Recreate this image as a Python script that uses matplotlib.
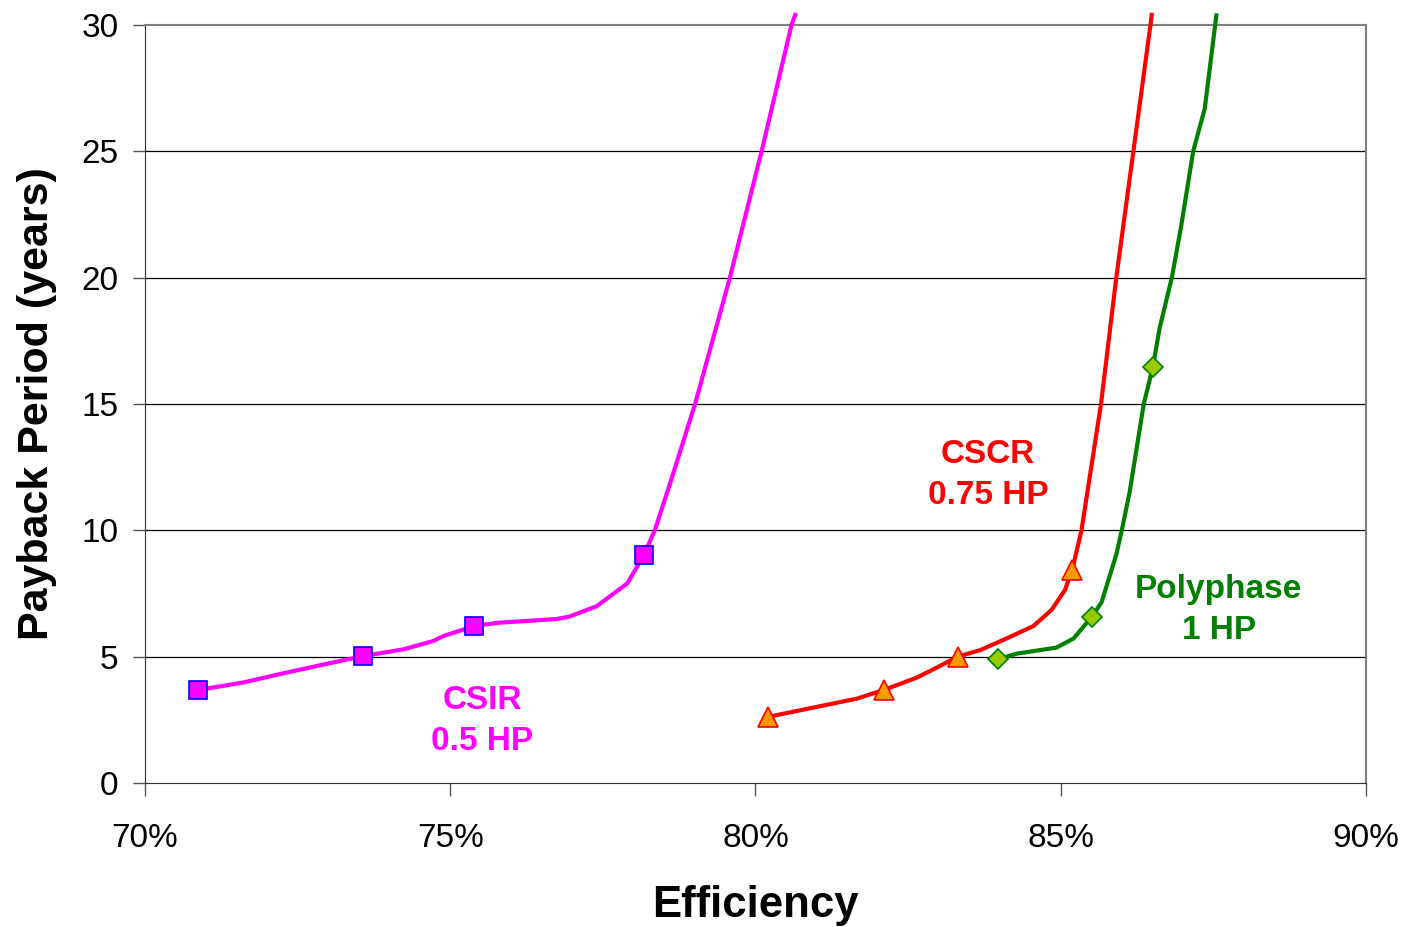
import matplotlib
matplotlib.use('Agg')
import matplotlib.pyplot as plt
from matplotlib.ticker import PercentFormatter

plt.rcParams['font.family'] = ['Liberation Sans', 'DejaVu Sans']

# efficiency (%) vs payback period (years)
csir_x = [70.87, 71.61, 72.26, 72.96, 73.57, 74.25, 74.72, 74.89, 75.39, 75.77, 76.73,
          76.94, 77.40, 77.90, 78.17, 78.35, 78.62, 79.01, 79.58, 80.10, 80.59, 80.65]
csir_y = [3.68, 3.98, 4.34, 4.71, 5.02, 5.30, 5.62, 5.82, 6.21, 6.34, 6.49,
          6.58, 7.00, 7.90, 9.02, 10.0, 12.0, 15.0, 20.0, 25.0, 30.0, 30.4]
csir_mx = [70.87, 73.57, 75.39, 78.17]
csir_my = [3.68, 5.02, 6.21, 9.02]

cscr_x = [80.21, 81.66, 82.10, 82.64, 83.02, 83.31, 83.68, 84.11, 84.55, 84.85, 85.07,
          85.19, 85.34, 85.50, 85.66, 85.91, 86.19, 86.47, 86.49]
cscr_y = [2.62, 3.34, 3.68, 4.17, 4.63, 5.00, 5.26, 5.72, 6.21, 6.85, 7.64,
          8.45, 10.0, 12.5, 15.0, 20.0, 25.0, 30.0, 30.4]
cscr_mx = [80.21, 82.10, 83.31, 85.19]
cscr_my = [2.62, 3.68, 5.00, 8.45]

poly_x = [83.98, 84.28, 84.93, 85.21, 85.51, 85.67, 85.91, 86.00, 86.13, 86.36,
          86.51, 86.62, 86.82, 86.97, 87.17, 87.36, 87.53, 87.55]
poly_y = [4.91, 5.12, 5.36, 5.72, 6.58, 7.16, 9.04, 10.0, 11.53, 15.0,
          16.48, 18.0, 20.0, 22.0, 25.0, 26.7, 30.0, 30.38]
poly_mx = [83.98, 85.51, 86.51]
poly_my = [4.91, 6.58, 16.48]

fig = plt.figure(figsize=(14.04, 9.27), dpi=100)
ax = fig.add_axes([0.1033, 0.1553, 0.8696, 0.8177])

# grid lines
for yv in [5, 10, 15, 20, 25]:
    ax.axhline(yv, color='black', lw=0.9, zorder=1)

ax.plot(csir_x, csir_y, color='#FF00FF', lw=3, zorder=3, clip_on=False)
ax.plot(csir_mx, csir_my, ls='none', marker='s', ms=12.5, mfc='#FF00FF', mec='#0000FF',
        mew=1.2, zorder=4)

ax.plot(cscr_x, cscr_y, color='#FF0000', lw=3, zorder=3, clip_on=False)
ax.plot(cscr_mx, cscr_my, ls='none', marker='^', ms=14, mfc='#FF9900', mec='#FF0000',
        mew=1.2, zorder=4)

ax.plot(poly_x, poly_y, color='#008000', lw=3, zorder=3, clip_on=False)
ax.plot(poly_mx, poly_my, ls='none', marker='D', ms=10, mfc='#99CC00', mec='#008000',
        mew=1.2, zorder=4)

ax.text(75.52, 2.45, 'CSIR\n0.5 HP', color='#FF00FF', fontsize=24, fontweight='bold',
        ha='center', va='center', linespacing=1.4)
ax.text(83.81, 12.2, 'CSCR\n0.75 HP', color='#FF0000', fontsize=24, fontweight='bold',
        ha='center', va='center', linespacing=1.4)
ax.text(87.59, 6.85, 'Polyphase\n1 HP', color='#008000', fontsize=24, fontweight='bold',
        ha='center', va='center', linespacing=1.4)

ax.set_xlim(70, 90)
ax.set_ylim(0, 30)
ax.set_xticks([70, 75, 80, 85, 90])
ax.set_yticks([0, 5, 10, 15, 20, 25, 30])
ax.xaxis.set_major_formatter(PercentFormatter(xmax=100, decimals=0))

ax.spines['left'].set_color('#333333')
ax.spines['bottom'].set_color('#333333')
ax.spines['top'].set_color('#808080')
ax.spines['right'].set_color('#808080')
ax.spines['top'].set_linewidth(1.5)
ax.spines['right'].set_linewidth(1.5)

ax.tick_params(axis='both', labelsize=24, color='#555555', length=9, width=1)
ax.tick_params(axis='x', pad=20)
ax.tick_params(axis='y', pad=10)

ax.set_xlabel('Efficiency', fontsize=31.5, fontweight='bold', labelpad=22)
ax.set_ylabel('Payback Period (years)', fontsize=31, fontweight='bold', labelpad=18)

plt.savefig('out.png', dpi=100)
plt.close(fig)
